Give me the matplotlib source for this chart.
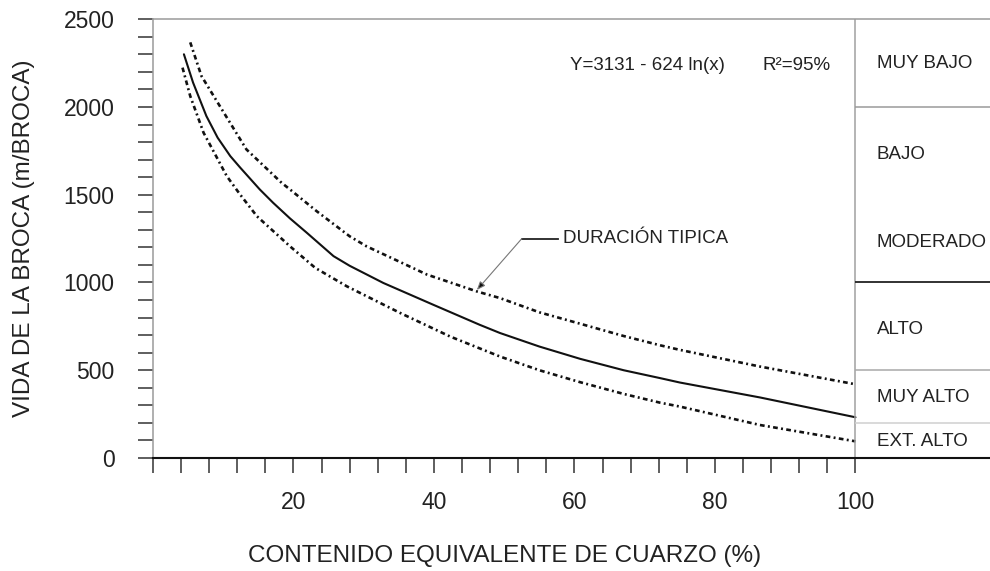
import numpy as np
import matplotlib
matplotlib.use("Agg")
import matplotlib.pyplot as plt
from matplotlib.ticker import FixedLocator, FuncFormatter

plt.rcParams['font.family'] = ['Liberation Sans', 'DejaVu Sans']
plt.rcParams['lines.scale_dashes'] = False

# Quartz content (%) vs. bit life (m/bit): typical curve and its upper/lower limits
typical_x = [4.4, 5.7, 7.6, 9.2, 11.0, 12.4, 15.2, 17.1, 19.5, 21.9, 25.7, 28.0,
             32.8, 39.9, 46.5, 49.4, 55.0, 60.8, 67.0, 72.2, 75.0, 86.4, 100]
typical_y = [2300, 2139, 1948, 1825, 1720, 1655, 1530, 1454, 1365, 1283, 1150, 1095,
             997, 873, 759, 712, 635, 565, 500, 455, 430, 345, 232]

upper_x = [5.3, 6.9, 9.8, 13.3, 18.3, 19.5, 23.3, 28.0, 30.4, 39.0, 46.1,
           49.4, 55.0, 60.8, 67.0, 72.2, 75.0, 86.4, 100]
upper_y = [2368, 2176, 1986, 1758, 1568, 1530, 1406, 1263, 1206, 1045, 949,
           911, 830, 765, 695, 642, 616, 521, 420]

lower_x = [4.2, 5.3, 7.2, 10.5, 12.4, 14.8, 19.5, 23.1, 27.6, 35.2, 42.3,
           49.4, 55.0, 60.8, 67.0, 72.2, 75.0, 86.4, 100]
lower_y = [2224, 2062, 1853, 1606, 1501, 1377, 1206, 1083, 978, 826, 692,
           578, 500, 432, 365, 315, 293, 188, 95]

# Abrasiveness classes shown in the right-hand panel
class_edges = [2000, 1000, 500, 200]
class_edge_colors = ['#9a9a9a', '#222222', '#a8a8a8', '#d0d0d0']
class_labels = ["MUY BAJO", "BAJO", "MODERADO", "ALTO", "MUY ALTO", "EXT. ALTO"]
class_label_y = [2250, 1730, 1230, 730, 345, 95]

x_ticks = list(range(0, 101, 4))
x_tick_labels = [20, 40, 60, 80, 100]
y_ticks = list(range(0, 2501, 100))
y_tick_labels = [0, 500, 1000, 1500, 2000, 2500]

X_MAX = 119.15
TXT = '#222222'

fig = plt.figure(figsize=(9.9, 5.71), dpi=100)
ax = fig.add_axes([0.15455, 0.1979, 0.84545, 0.7685])
ax.set_xlim(0, X_MAX)
ax.set_ylim(0, 2500)

# curves
ax.plot(typical_x, typical_y, color='#111111', lw=1.5,
        solid_capstyle='round', solid_joinstyle='round')
dash = (0, (3.4, 2.4, 1.4, 2.4))
ax.plot(upper_x, upper_y, color='#111111', lw=1.9, linestyle=dash)
ax.plot(lower_x, lower_y, color='#111111', lw=1.9, linestyle=dash)

# class panel
ax.vlines(100, 0, 2500, color='#a0a0a0', lw=1.1)
for y, c in zip(class_edges, class_edge_colors):
    ax.hlines(y, 100, X_MAX, color=c, lw=1.1 if c != '#222222' else 1.3)
for lab, y in zip(class_labels, class_label_y):
    ax.text(103, y, lab, fontsize=13.5, color=TXT, va='center', ha='left')

# regression text
ax.text(59.4, 2235, "Y=3131 - 624 ln(x)", fontsize=13.5, color=TXT, va='center', ha='left')
ax.text(86.7, 2235, "R\u00b2=95%", fontsize=13.5, color=TXT, va='center', ha='left')

# leader for the typical-life curve
i_pt = upper_x.index(46.1)
ax.annotate("", xy=(upper_x[i_pt], upper_y[i_pt] + 8), xytext=(52.5, 1250),
            arrowprops=dict(arrowstyle='-|>,head_length=0.5,head_width=0.2',
                            ec='#777777', fc='#111111', lw=0.8,
                            shrinkA=0, shrinkB=0))
ax.plot([52.5, 57.6], [1250, 1250], color='#222222', lw=1.3)
ax.text(58.4, 1250, "DURACIÓN TIPICA", fontsize=13.5, color=TXT, va='center', ha='left')

# spines
ax.spines['right'].set_visible(False)
for s in ('top', 'left'):
    ax.spines[s].set_color('#9a9a9a')
    ax.spines[s].set_linewidth(1.1)
ax.spines['bottom'].set_color('#111111')
ax.spines['bottom'].set_linewidth(1.5)

# ticks
ax.xaxis.set_major_locator(FixedLocator(x_ticks))
ax.xaxis.set_major_formatter(FuncFormatter(
    lambda v, p: f"{int(round(v))}" if int(round(v)) in x_tick_labels else ""))
ax.yaxis.set_major_locator(FixedLocator(y_ticks))
ax.yaxis.set_major_formatter(FuncFormatter(
    lambda v, p: f"{int(round(v))}" if int(round(v)) in y_tick_labels else ""))
ax.tick_params(axis='x', direction='out', length=10.8, width=1.1, color='#333333',
               pad=13, labelsize=16.5, labelcolor=TXT)
ax.tick_params(axis='y', direction='out', length=10.8, width=1.1, color='#333333',
               pad=17, labelsize=16.5, labelcolor=TXT)

# axis titles
ax.set_xlabel("CONTENIDO EQUIVALENTE DE CUARZO (%)", fontsize=17.5, color=TXT)
ax.xaxis.label.set_va('center')
ax.xaxis.set_label_coords(50 / X_MAX, -(556 - 458) / 439)
ax.set_ylabel("VIDA DE LA BROCA (m/BROCA)", fontsize=17.5, color=TXT)
ax.yaxis.label.set_va('center')
ax.yaxis.label.set_ha('center')
ax.yaxis.set_label_coords(-(153 - 24) / 837, 0.5)

fig.savefig("out.png", dpi=100)
